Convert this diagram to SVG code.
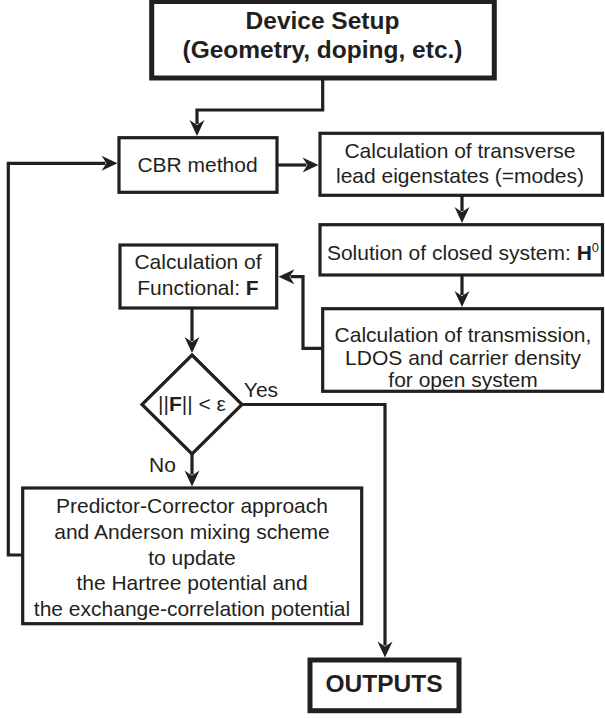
<svg xmlns="http://www.w3.org/2000/svg" width="605" height="719" viewBox="0 0 605 719">
<style>
  .box{fill:#fff;stroke:#231f20;stroke-width:3.2}
  .thick{fill:#fff;stroke:#231f20;stroke-width:5}
  .t{font-family:"Liberation Sans",Arial,sans-serif;font-size:21px;fill:#231f20;text-anchor:middle}
  .tb{font-family:"Liberation Sans",Arial,sans-serif;font-size:24.5px;font-weight:bold;fill:#231f20;text-anchor:middle}
  .b{font-weight:bold}
  .c{fill:none;stroke:#231f20;stroke-width:3.2;stroke-linejoin:miter}
  .a{marker-end:url(#arr)}
</style>
<defs>
  <marker id="arr" markerUnits="userSpaceOnUse" viewBox="-5 -8 18 16" markerWidth="18" markerHeight="16" refX="0" refY="0" orient="auto">
    <path d="M12,0 L-4,-7.5 L1,0 L-4,7.5 Z" fill="#231f20"/>
  </marker>
</defs>
<rect width="605" height="719" fill="#fff"/>

<g id="connectors">
  <path class="c a" d="M322.7,80 V110 H197 V124"/>
  <path class="c a" d="M277,165 H306.5"/>
  <path class="c a" d="M462,196 V211"/>
  <path class="c a" d="M462,275 V295"/>
  <path class="c a" d="M323,348.3 H303 V276.7 H290.5"/>
  <path class="c a" d="M192,308 V341"/>
  <path class="c a" d="M192,454 V474.5"/>
  <path class="c a" d="M242,404.5 H385 V645.5"/>
  <path class="c a" d="M22.7,555 H8.3 V163.3 H105.5"/>
</g>

<g id="device-setup">
  <rect class="thick" x="151.7" y="1.5" width="342.6" height="76.5"/>
  <text class="tb" x="322.5" y="28.5">Device Setup</text>
  <text class="tb" x="322.5" y="57.5">(Geometry, doping, etc.)</text>
</g>

<g id="cbr-method">
  <rect class="box" x="119" y="137.7" width="158" height="54.6"/>
  <text class="t" x="197.5" y="171.7">CBR method</text>
</g>

<g id="transverse-modes">
  <rect class="box" x="320" y="133.3" width="282.5" height="62"/>
  <text class="t" x="460" y="158.3">Calculation of transverse</text>
  <text class="t" x="460" y="183.3">lead eigenstates (=modes)</text>
</g>

<g id="closed-system">
  <rect class="box" x="320" y="224.7" width="282.5" height="50.3"/>
  <text class="t" x="463" y="260">Solution of closed system: <tspan class="b">H</tspan><tspan font-size="13" dy="-8">0</tspan></text>
</g>

<g id="transmission">
  <rect class="box" x="322.7" y="308.7" width="279.8" height="82.6"/>
  <text class="t" x="463" y="342">Calculation of transmission,</text>
  <text class="t" x="463" y="364.5">LDOS and carrier density</text>
  <text class="t" x="463" y="387">for open system</text>
</g>

<g id="functional">
  <rect class="box" x="120" y="245" width="156.7" height="63"/>
  <text class="t" x="198" y="269.3">Calculation of</text>
  <text class="t" x="198" y="295">Functional: <tspan class="b">F</tspan></text>
</g>

<g id="convergence-check">
  <polygon class="box" stroke-width="3.5" points="192,355 242,404.5 192,454 142,404.5"/>
  <text class="t" x="192" y="411">||<tspan class="b">F</tspan>|| &lt; ε</text>
  <text class="t" x="261" y="397">Yes</text>
  <text class="t" x="162.5" y="472">No</text>
</g>

<g id="predictor-corrector">
  <rect class="box" x="22.7" y="488" width="339" height="135.7"/>
  <text class="t" x="192" y="513">Predictor-Corrector approach</text>
  <text class="t" x="192" y="539">and Anderson mixing scheme</text>
  <text class="t" x="192" y="565">to update</text>
  <text class="t" x="192" y="590">the Hartree potential and</text>
  <text class="t" x="192" y="616">the exchange-correlation potential</text>
</g>

<g id="outputs">
  <rect class="thick" x="310" y="660" width="149" height="50.7"/>
  <text class="tb" x="384" y="691.7">OUTPUTS</text>
</g>
</svg>
